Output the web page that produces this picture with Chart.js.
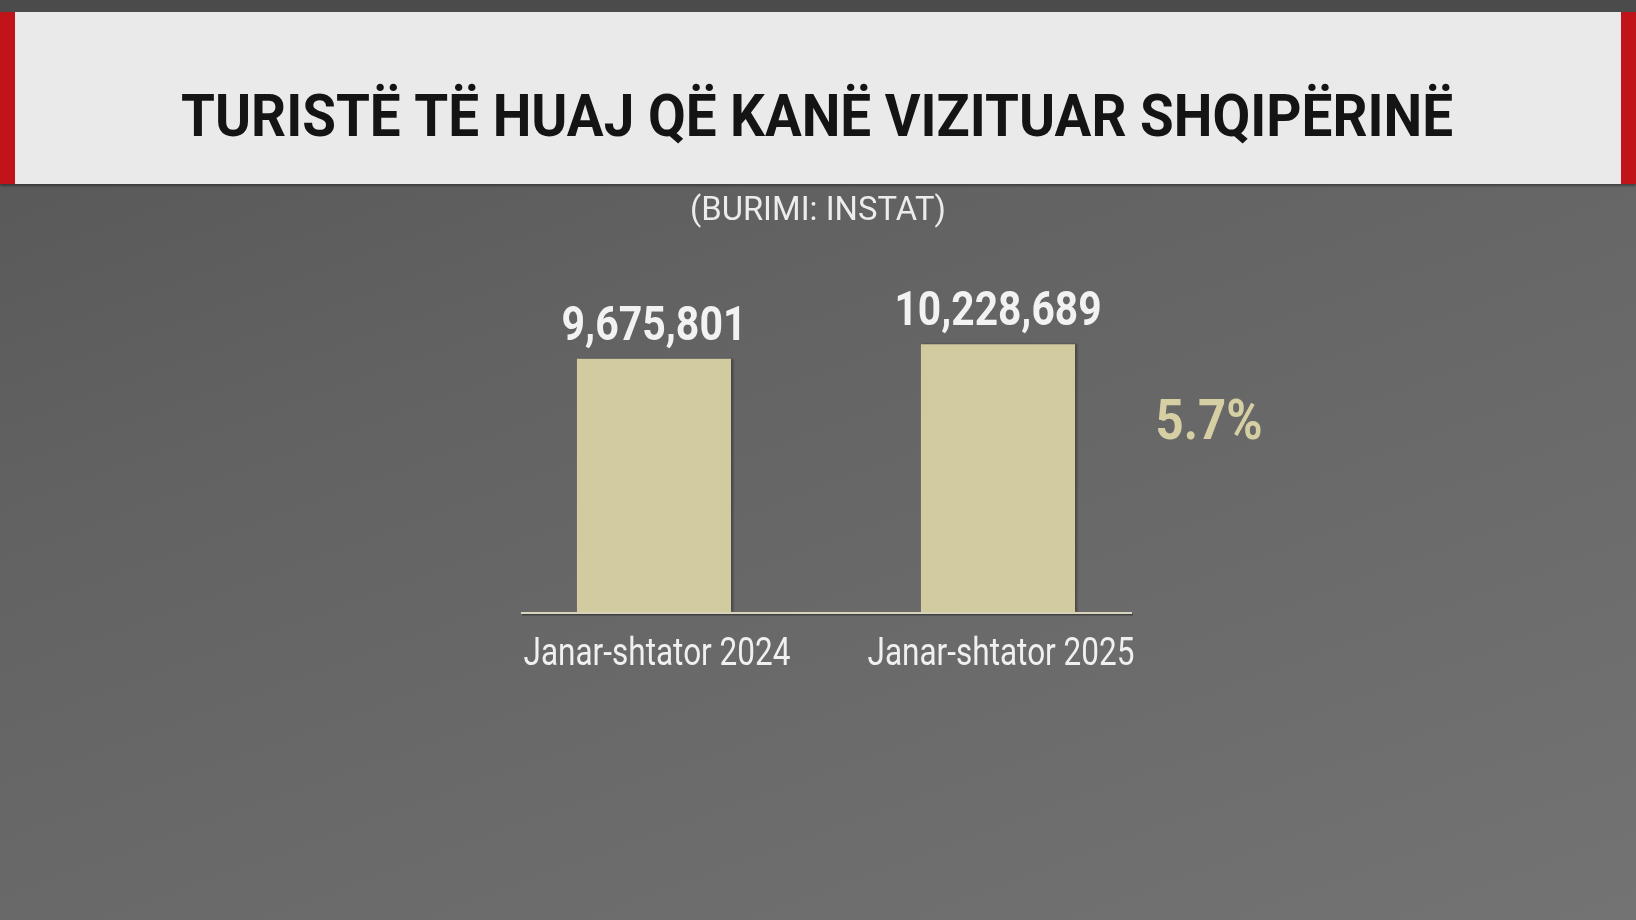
<!DOCTYPE html>
<html>
<head>
<meta charset="utf-8">
<script src="https://cdn.jsdelivr.net/npm/chart.js@4.4.1/dist/chart.umd.min.js"></script>
<style>
  html, body { margin: 0; padding: 0; }
  body {
    width: 1636px;
    height: 920px;
    overflow: hidden;
    background: linear-gradient(160deg, #555 0%, #626262 35%, #6a6a6a 65%, #737373 100%);
  }
  #wrap { position: absolute; left: 0; top: 0; width: 1636px; height: 920px; }
</style>
</head>
<body>
<div id="wrap"><canvas id="chart" width="1636" height="920"></canvas></div>

<script>
/* ---------------- Data ---------------- */
const title = "TURISTË TË HUAJ QË KANË VIZITUAR SHQIPËRINË";
const source = "(BURIMI: INSTAT)";
const categories = ["Janar-shtator 2024", "Janar-shtator 2025"];
const visitors = [9675801, 10228689];
const change = "5.7%";
const yMax = 12000000;

/* ---------------- Helpers ---------------- */
// draw text squeezed horizontally to a target width (condensed look)
function condensed(ctx, text, cx, baseline, font, width, color) {
  ctx.save();
  ctx.font = font;
  ctx.fillStyle = color;
  ctx.textAlign = "left";
  ctx.textBaseline = "alphabetic";
  const w = ctx.measureText(text).width;
  const s = width / w;
  ctx.translate(cx - width / 2, baseline);
  ctx.scale(s, 1);
  ctx.fillText(text, 0, 0);
  ctx.restore();
}

const fmt = v => v.toLocaleString("en-US");

/* ---------------- Plugins ---------------- */
const header = {
  id: "header",
  beforeDraw(chart) {
    const ctx = chart.ctx;
    ctx.save();
    // dark top strip
    ctx.fillStyle = "#4b4b4b";
    ctx.fillRect(0, 0, 1636, 12);
    // light title box with red edges
    ctx.shadowColor = "rgba(0,0,0,0.35)";
    ctx.shadowOffsetY = 2;
    ctx.shadowBlur = 2;
    ctx.fillStyle = "#eaeaea";
    ctx.fillRect(0, 12, 1636, 172);
    ctx.shadowColor = "transparent";
    ctx.fillStyle = "#c0141a";
    ctx.fillRect(0, 12, 15, 172);
    ctx.fillRect(1621, 12, 15, 172);
    ctx.restore();

    condensed(ctx, title, 817, 136, "bold 59px Roboto", 1272, "#141414");
    condensed(ctx, source, 818, 220, "34px Roboto", 256, "#ececec");
  }
};

const barShadow = {
  id: "barShadow",
  beforeDatasetsDraw(chart) {
    const ctx = chart.ctx;
    ctx.save();
    ctx.shadowColor = "rgba(0,0,0,0.35)";
    ctx.shadowOffsetX = 2;
    ctx.shadowOffsetY = 0;
    ctx.shadowBlur = 2;
  },
  afterDatasetsDraw(chart) {
    chart.ctx.restore();
  }
};

const labels = {
  id: "labels",
  afterDraw(chart) {
    const ctx = chart.ctx;
    const bars = chart.getDatasetMeta(0).data;
    const xs = chart.scales.x;
    const base = chart.scales.y.getPixelForValue(0);

    // baseline
    const first = bars[0], last = bars[bars.length - 1];
    const x0 = first.x - first.width / 2 - 56;
    const x1 = last.x + last.width / 2 + 57;
    ctx.save();
    ctx.strokeStyle = "rgba(40,40,40,0.6)";
    ctx.lineWidth = 2;
    ctx.beginPath();
    ctx.moveTo(x0 + 1, base + 2.5);
    ctx.lineTo(x1 + 1, base + 2.5);
    ctx.stroke();
    ctx.strokeStyle = "#d8d3bd";
    ctx.lineWidth = 2;
    ctx.beginPath();
    ctx.moveTo(x0, base + 1);
    ctx.lineTo(x1, base + 1);
    ctx.stroke();
    ctx.restore();

    // values above bars
    const valueWidths = [185, 207];
    bars.forEach((bar, i) => {
      condensed(ctx, fmt(visitors[i]), bar.x, bar.y - 19, "bold 49px Roboto",
        valueWidths[i], "#f2f2f2");
    });

    // category labels
    const catWidths = [267, 267];
    categories.forEach((c, i) => {
      condensed(ctx, c, xs.getPixelForValue(i) + 3, base + 53, "39px Roboto",
        catWidths[i], "#f0f0f0");
    });

    // growth percentage
    condensed(ctx, change, last.x + last.width / 2 + 134, last.y + 95,
      "bold 56px Roboto", 107, "#d6cfa3");
  }
};

/* ---------------- Chart ---------------- */
new Chart(document.getElementById("chart"), {
  type: "bar",
  data: {
    labels: categories,
    datasets: [
      {
        data: visitors,
        backgroundColor: "#d2cba0",
        borderWidth: 0,
        barPercentage: 0.448,
        categoryPercentage: 1
      }
    ]
  },
  options: {
    responsive: false,
    animation: false,
    layout: { padding: { left: 482, right: 466, top: 298, bottom: 308 } },
    plugins: {
      legend: { display: false },
      tooltip: { enabled: false },
      title: { display: false }
    },
    scales: {
      x: { display: false },
      y: { display: false, min: 0, max: yMax }
    }
  },
  plugins: [header, barShadow, labels]
});
</script>
</body>
</html>
